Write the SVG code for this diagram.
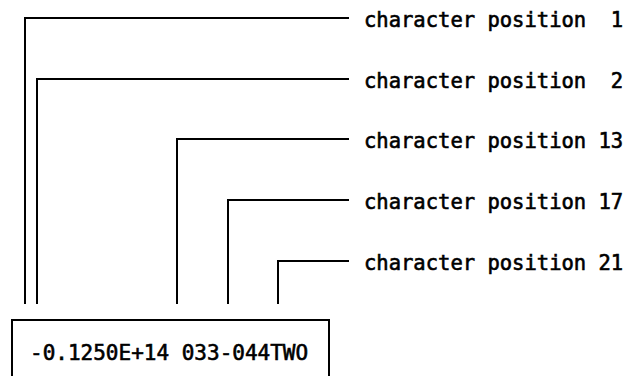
<svg xmlns="http://www.w3.org/2000/svg" width="631" height="376" viewBox="0 0 631 376">
  <style>
    .lead { fill: none; stroke: #000; stroke-width: 2; stroke-linejoin: miter; }
    .lbl { font-family: "DejaVu Sans Mono", "Liberation Mono", monospace; font-size: 20.5px; fill: #000; stroke: #000; stroke-width: 0.6; white-space: pre; }
    .rec { font-family: "DejaVu Sans Mono", "Liberation Mono", monospace; font-size: 21px; fill: #000; stroke: #000; stroke-width: 0.6; white-space: pre; }
  </style>
  <rect width="631" height="376" fill="#fff"/>

  <!-- leader lines from record columns to their labels -->
  <g id="connectors">
    <polyline class="lead" points="25,304 25,18 349,18"/>
    <polyline class="lead" points="37,304 37,79 349,79"/>
    <polyline class="lead" points="177,304 177,139 349,139"/>
    <polyline class="lead" points="228,304 228,200 349,200"/>
    <polyline class="lead" points="278,304 278,261 349,261"/>
  </g>

  <g id="label-pos1"><text class="lbl" x="364" y="27" xml:space="preserve">character position  1</text></g>
  <g id="label-pos2"><text class="lbl" x="364" y="88" xml:space="preserve">character position  2</text></g>
  <g id="label-pos13"><text class="lbl" x="364" y="148">character position 13</text></g>
  <g id="label-pos17"><text class="lbl" x="364" y="209">character position 17</text></g>
  <g id="label-pos21"><text class="lbl" x="364" y="270">character position 21</text></g>

  <!-- the data record -->
  <g id="record">
    <rect x="12" y="320" width="317" height="70" fill="none" stroke="#000" stroke-width="2"/>
    <text class="rec" x="30" y="360">-0.1250E+14 033-044TWO</text>
  </g>
</svg>
